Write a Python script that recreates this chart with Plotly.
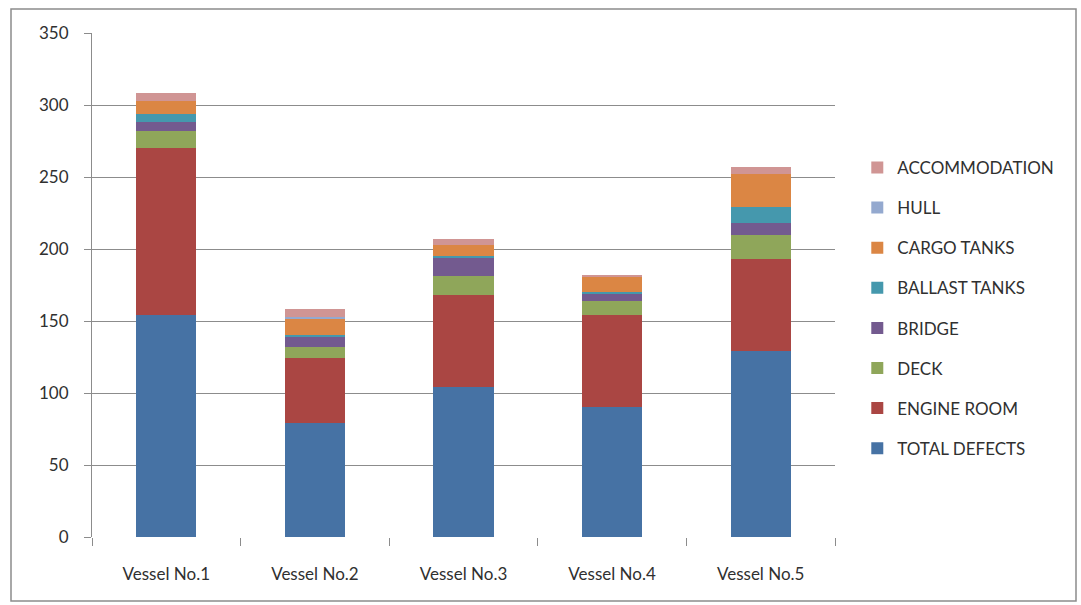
import plotly.graph_objects as go

vessels = ["Vessel No.1", "Vessel No.2", "Vessel No.3", "Vessel No.4", "Vessel No.5"]

total_defects = [154, 79, 104, 90, 129]
engine_room = [116, 45, 64, 64, 64]
deck = [12, 8, 13, 10, 17]
bridge = [6, 7, 13, 5, 8]
ballast_tanks = [6, 1, 1, 1, 11]
cargo_tanks = [9, 12, 8, 11, 23]
hull = [0, 1, 0, 0, 0]
accommodation = [5, 5, 4, 1, 5]

series = [
    ("TOTAL DEFECTS", total_defects, "#4672A4"),
    ("ENGINE ROOM", engine_room, "#AA4643"),
    ("DECK", deck, "#8FA65A"),
    ("BRIDGE", bridge, "#735A8F"),
    ("BALLAST TANKS", ballast_tanks, "#4598AD"),
    ("CARGO TANKS", cargo_tanks, "#DB8644"),
    ("HULL", hull, "#94A9CF"),
    ("ACCOMMODATION", accommodation, "#D09594"),
]

W, H = 1081, 605
ML, MR, MT, MB = 92, 246, 33, 68

fig = go.Figure()
for i, (name, vals, color) in enumerate(series):
    fig.add_trace(go.Bar(
        name=name, x=vessels, y=vals, marker_color=color,
        marker_line_width=0, legendgroup=name,
        legendrank=100 - i,  # top of the stack listed first
    ))

fig.update_layout(
    width=W, height=H,
    margin=dict(l=ML, r=MR, t=MT, b=MB),
    barmode="stack", bargap=0.595,
    plot_bgcolor="white", paper_bgcolor="white",
    font=dict(family="Lato, Open Sans, sans-serif", size=16, color="#303030"),
    legend=dict(
        x=1.03, y=0.768, xanchor="left", yanchor="top",
        traceorder="grouped", tracegroupgap=15,
        font=dict(size=17, color="#303030"),
        itemwidth=30,
    ),
    showlegend=True,
)

fig.update_yaxes(
    range=[0, 350], dtick=50,
    showgrid=True, gridcolor="#8C8C8C", gridwidth=1,
    showline=True, linecolor="#8C8C8C", linewidth=1,
    ticks="outside", ticklen=7, tickcolor="#8C8C8C",
    zeroline=False, tickfont=dict(size=17),
    ticklabelstandoff=12,
)
fig.update_xaxes(
    showline=False, ticks="outside", tickson="boundaries",
    ticklen=8, tickcolor="#8C8C8C", tickfont=dict(size=17),
    showgrid=False, ticklabelstandoff=25,
)

# outer chart frame, expressed in paper coordinates
pw = W - ML - MR
ph = H - MT - MB
def px_to_paper_x(px):
    return (px - ML) / pw
def px_to_paper_y(py):
    return (H - MB - py) / ph

fig.add_shape(
    type="rect", xref="paper", yref="paper",
    x0=px_to_paper_x(11), x1=px_to_paper_x(1076),
    y0=px_to_paper_y(601), y1=px_to_paper_y(9),
    line=dict(color="#8C8C8C", width=1.5), fillcolor="rgba(0,0,0,0)",
    layer="below",
)

fig.write_html("out.html")
